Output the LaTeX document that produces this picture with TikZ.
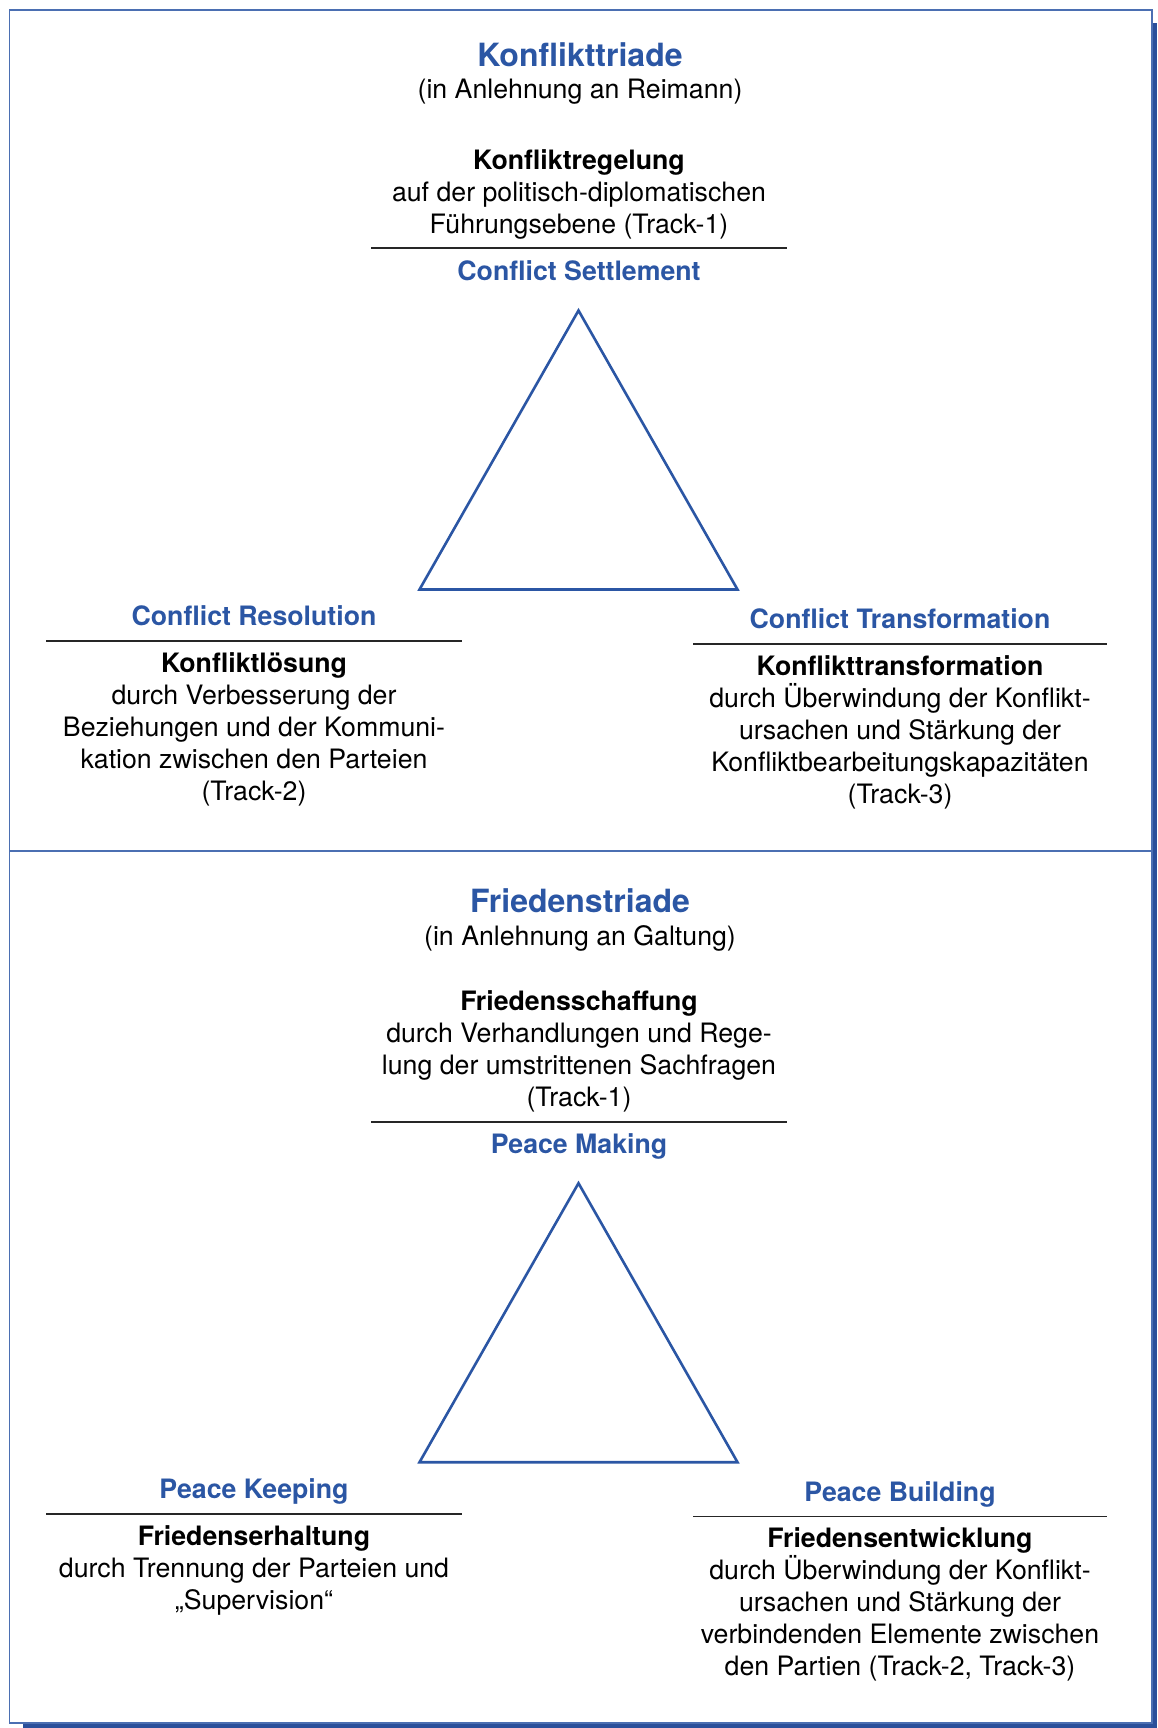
\documentclass[tikz,border=0pt]{standalone}
\usepackage{fontspec}
\setmainfont{TeX Gyre Heros}
\definecolor{tblue}{HTML}{2B56A4}
\definecolor{sblue}{HTML}{2A4F9A}
\newcommand\firststrut{\rule{0pt}{25pt}}
\begin{document}
\begin{tikzpicture}[x=1pt,y=-1pt,
  body/.style={anchor=north,inner sep=0pt,align=center,font=\fontsize{26.7pt}{32pt}\selectfont},
  head/.style={body,font=\fontsize{26.7pt}{32pt}\selectfont\bfseries,text=tblue},
  title/.style={body,font=\fontsize{32pt}{36pt}\selectfont\bfseries,text=tblue},
  sep/.style={line width=1.3pt,black!85},
  tri/.style={draw=tblue,line width=2.6pt,line join=miter}]
\useasboundingbox (0,0) rectangle (1157,1728);
\fill[white] (0,0) rectangle (1157,1728);
% frame with shadow
\fill[sblue] (1152.5,23) rectangle (1157,1728);
\fill[sblue] (23,1723.5) rectangle (1157,1728);
\draw[tblue!85,line width=1.5pt] (9.5,10) rectangle (1152,1723);
\draw[tblue!85,line width=1.5pt] (9.5,851) -- (1152,851);

% ---------- Konflikttriade ----------
\node[title] (t1) at (580,41) {\firststrut Konflikttriade};
\node[body] (t1s) at (580,73) {\firststrut(in Anlehnung an Reimann)};
\node[body] (cs) at (579,144) {\firststrut\textbf{Konfliktregelung}\\auf der politisch-diplomatischen\\Führungsebene (Track-1)};
\coordinate (csl) at (371,248); \coordinate (csr) at (787,248);
\draw[sep] (csl) -- (csr);
\node[head] (csh) at (579,255) {\firststrut Conflict Settlement};
\coordinate (a1) at (578.5,310.5);
\coordinate (b1) at (419.5,589.5);
\coordinate (c1) at (737.5,589.5);
\draw[tri] (a1) -- (b1) -- (c1) -- cycle;

\node[head] (crh) at (254,600) {\firststrut Conflict Resolution};
\coordinate (crl) at (46,641); \coordinate (crr) at (462,641);
\draw[sep] (crl) -- (crr);
\node[body] (cr) at (254,647) {\firststrut\textbf{Konfliktlösung}\\durch Verbesserung der\\Beziehungen und der Kommuni-\\kation zwischen den Parteien\\(Track-2)};

\node[head] (cth) at (900,603) {\firststrut Conflict Transformation};
\coordinate (ctl) at (693,644); \coordinate (ctr) at (1107,644);
\draw[sep] (ctl) -- (ctr);
\node[body] (ct) at (900,650) {\firststrut\textbf{Konflikttransformation}\\durch Überwindung der Konflikt-\\ursachen und Stärkung der\\Konfliktbearbeitungskapazitäten\\(Track-3)};

% ---------- Friedenstriade ----------
\node[title] (t2) at (580,887) {\firststrut Friedenstriade};
\node[body] (t2s) at (580,920) {\firststrut(in Anlehnung an Galtung)};
\node[body] (pm) at (579,985) {\firststrut\textbf{Friedensschaffung}\\durch Verhandlungen und Rege-\\lung der umstrittenen Sachfragen\\(Track-1)};
\coordinate (pml) at (371,1122); \coordinate (pmr) at (787,1122);
\draw[sep] (pml) -- (pmr);
\node[head] (pmh) at (579,1128) {\firststrut Peace Making};
\coordinate (a2) at (578.5,1183.2);
\coordinate (b2) at (419.5,1462.2);
\coordinate (c2) at (737.5,1462.2);
\draw[tri] (a2) -- (b2) -- (c2) -- cycle;

\node[head] (pkh) at (254,1473) {\firststrut Peace Keeping};
\coordinate (pkl) at (46,1514); \coordinate (pkr) at (462,1514);
\draw[sep] (pkl) -- (pkr);
\node[body] (pk) at (254,1520) {\firststrut\textbf{Friedenserhaltung}\\durch Trennung der Parteien und\\„Supervision“};

\node[head] (pbh) at (900,1476) {\firststrut Peace Building};
\coordinate (pbl) at (693,1516.5); \coordinate (pbr) at (1107,1516.5);
\draw[sep] (pbl) -- (pbr);
\node[body] (pb) at (900,1522) {\firststrut\textbf{Friedensentwicklung}\\durch Überwindung der Konflikt-\\ursachen und Stärkung der\\verbindenden Elemente zwischen\\den Partien (Track-2, Track-3)};
\end{tikzpicture}
\end{document}
